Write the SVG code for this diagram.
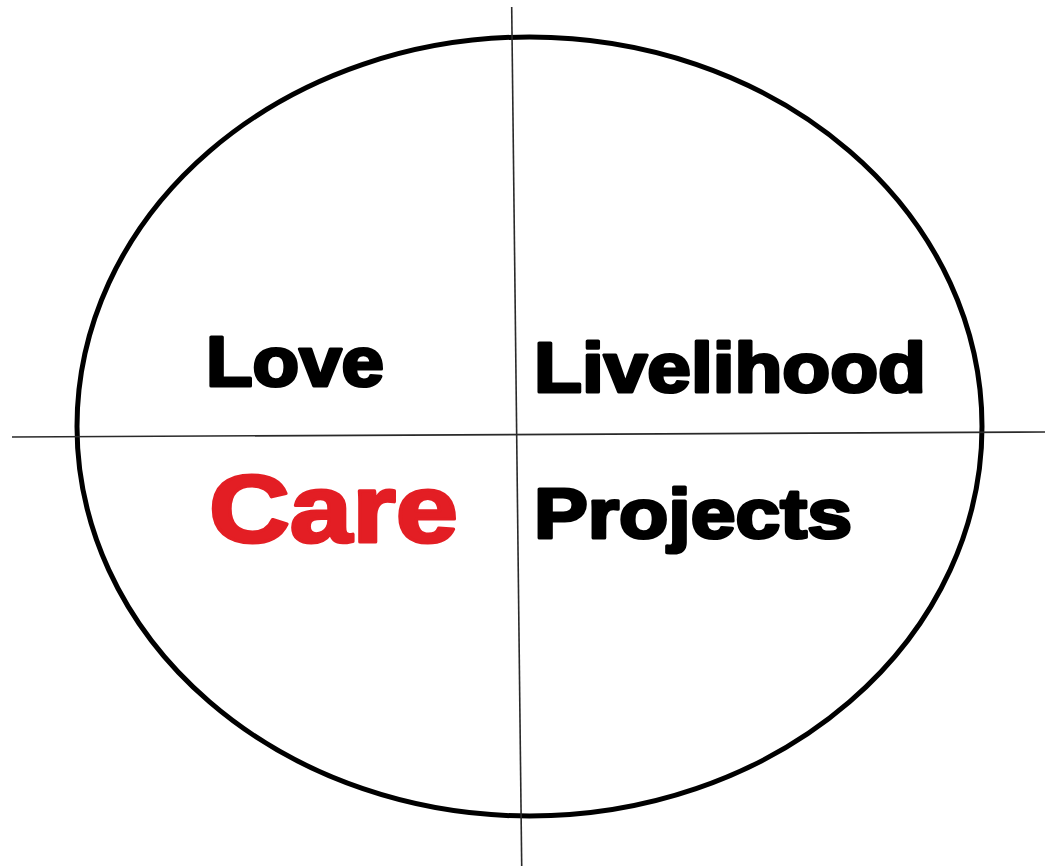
<svg xmlns="http://www.w3.org/2000/svg" width="1045" height="866" viewBox="0 0 1045 866">
  <style>
    .axis { stroke: #2a2a2a; stroke-width: 1.6; fill: none; }
    .outline { stroke: #000; stroke-width: 5; fill: none; }
    .label { font-family: "Liberation Sans", Arial, sans-serif; font-weight: bold; fill: #000; stroke: #000; stroke-width: 3.2; stroke-linejoin: round; }
    .accent { fill: #e31e24; stroke: #e31e24; }
  </style>
  <rect width="1045" height="866" fill="#fff"/>

  <!-- outer ellipse -->
  <g id="circle">
    <ellipse class="outline" cx="529.5" cy="426.5" rx="452.5" ry="389.5"/>
  </g>

  <!-- dividing axes -->
  <g id="connectors">
    <line class="axis" x1="511.7" y1="7" x2="521.7" y2="866"/>
    <line class="axis" x1="12" y1="437" x2="1045" y2="432"/>
  </g>

  <!-- quadrant labels -->
  <g id="love">
    <text class="label" x="206" y="386" font-size="70" textLength="178" lengthAdjust="spacingAndGlyphs">Love</text>
  </g>
  <g id="livelihood">
    <text class="label" x="534" y="392" font-size="70" textLength="392" lengthAdjust="spacingAndGlyphs">Livelihood</text>
  </g>
  <g id="care">
    <text class="label accent" x="209" y="542" font-size="96" textLength="249" lengthAdjust="spacingAndGlyphs">Care</text>
  </g>
  <g id="projects">
    <text class="label" x="534" y="538" font-size="70" textLength="318" lengthAdjust="spacingAndGlyphs">Projects</text>
  </g>
</svg>
